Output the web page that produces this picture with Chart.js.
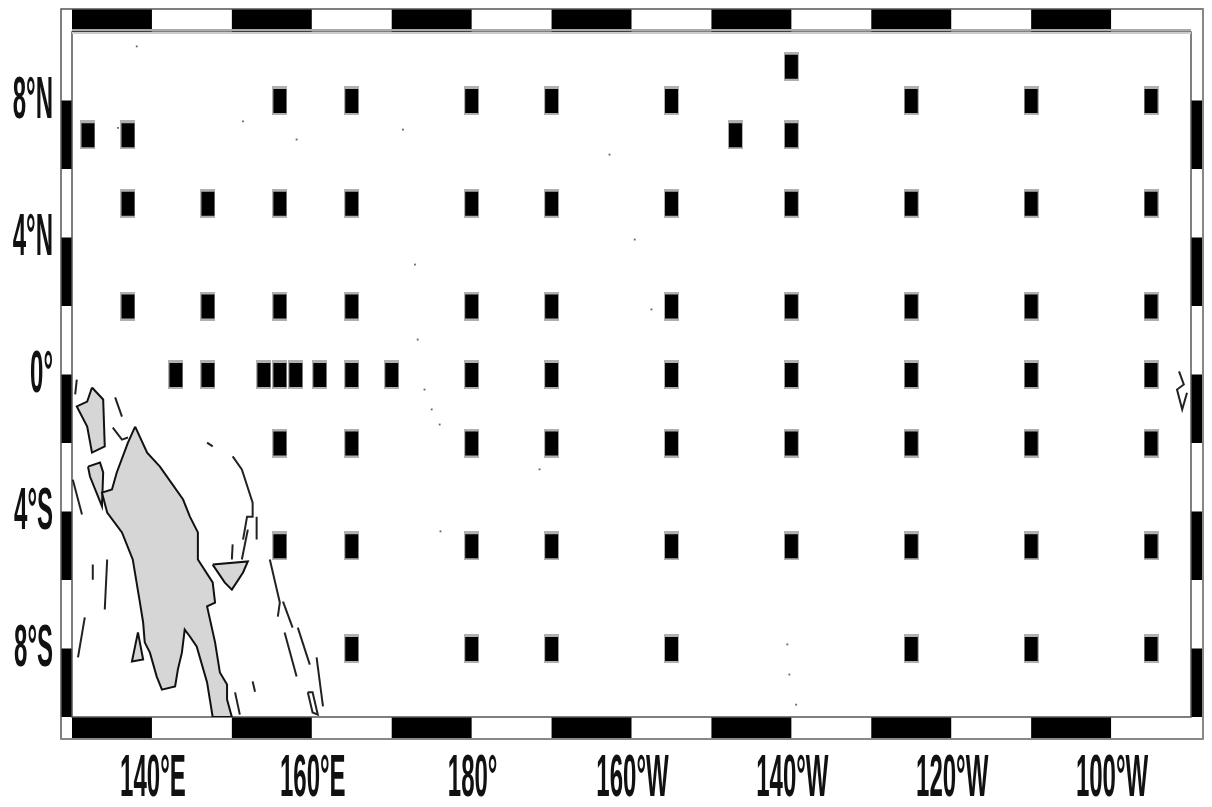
<!DOCTYPE html>
<html>
<head>
<meta charset="utf-8">
<style>
  html, body { margin: 0; padding: 0; background: #fff; }
  canvas { display: block; filter: blur(0.6px); }
</style>
<script src="https://cdn.jsdelivr.net/npm/chart.js@4"></script>
</head>
<body>
<canvas id="chartMap" width="1212" height="807"></canvas>
<script>
// Mooring stations, longitudes (degrees east) per latitude row
const lons9N = [220];
const lons8N = [156, 165, 180, 190, 205, 235, 250, 265];
const lons7N = [132, 137, 213, 220];
const lons5N = [137, 147, 156, 165, 180, 190, 205, 220, 235, 250, 265];
const lons2N = [137, 147, 156, 165, 180, 190, 205, 220, 235, 250, 265];
const lons0 = [143, 147, 154, 156, 158, 161, 165, 170, 180, 190, 205, 220, 235, 250, 265];
const lons2S = [156, 165, 180, 190, 205, 220, 235, 250, 265];
const lons5S = [156, 165, 180, 190, 205, 220, 235, 250, 265];
const lons8S = [165, 180, 190, 205, 235, 250, 265];

// Axis ticks
const xTickValues = [140, 160, 180, 200, 220, 240, 260];
const xTickLabels = ['140°E', '160°E', '180°', '160°W', '140°W', '120°W', '100°W'];
const yTickValues = [8, 4, 0, -4, -8];
const yTickLabels = ['8°N', '4°N', '0°', '4°S', '8°S'];

// Frame band edges, black and white alternate
const lonBandEdges = [130, 140, 150, 160, 170, 180, 190, 200, 210, 220, 230, 240, 250, 260, 270];
const latBandEdges = [10, 8, 6, 4, 2, 0, -2, -4, -6, -8, -10];

// Land, [lon, lat]
const newGuinea = [[137.9,-1.52],[139.4,-2.28],[141,-2.69],[143.9,-3.65],[144.75,-4.15],[145.75,-4.61],[145.75,-5.4],[147.6,-6.07],[147.9,-6.66],[146.9,-6.77],[147.9,-7.82],[148.5,-8.7],[149.4,-9.05],[149.4,-9.49],[150,-10],[147.6,-10],[146.9,-8.99],[145.6,-7.94],[144.75,-7.65],[144.1,-7.45],[143.75,-8.12],[143.25,-8.61],[142.9,-9.11],[141.25,-9.2],[140.6,-8.82],[139.75,-8.12],[139.1,-7.82],[138.9,-7.24],[138.5,-6.66],[137.6,-5.4],[136.25,-4.61],[134.4,-4.03],[133.75,-3.45],[135,-3.36],[135.6,-2.86],[137,-1.99],[137.9,-1.52]];
const halmahera = [[132.5,-0.38],[133.9,-0.73],[134.1,-2.1],[132.5,-2.28],[131.9,-1.52],[130.6,-0.93],[131.9,-0.79],[132.5,-0.38]];
const seram = [[132,-2.69],[133.5,-2.57],[133.9,-2.86],[133.75,-3.85],[132.25,-2.98],[132,-2.69]];
const britainTip = [[147.6,-5.55],[152,-5.46],[151.4,-5.78],[150,-6.28],[149.1,-6.07],[147.6,-5.55]];
const smallIsland = [[138.25,-7.53],[137.5,-8.38],[138.9,-8.32],[138.25,-7.53]];
const coastLines = [
  [[130.6,-0.15],[130.4,-0.58]],
  [[135.4,-0.67],[136.25,-1.23]],
  [[135.1,-1.55],[136.25,-1.9],[137,-1.84]],
  [[150.1,-2.39],[151.25,-2.77],[152.6,-3.74],[152.6,-4.15],[151.9,-4.15],[151.4,-4.82]],
  [[153.1,-4.15],[153.1,-4.82]],
  [[150.1,-4.96],[150,-5.4]],
  [[151.25,-5.4],[152,-4.53]],
  [[146.9,-1.99],[147.6,-2.1]],
  [[130.1,-3.07],[131.25,-4.09]],
  [[154.75,-5.4],[156,-6.66],[155.75,-7.07]],
  [[156.4,-6.63],[157.6,-7.39]],
  [[158.25,-7.39],[159.75,-8.47]],
  [[156.6,-7.53],[158.1,-8.82]],
  [[160.6,-8.26],[161.4,-9.69]],
  [[159.5,-9.28],[160.1,-9.28],[160.75,-9.93],[160.1,-9.87],[159.5,-9.28]],
  [[152.6,-8.96],[152.9,-9.26]],
  [[150.4,-9.28],[151,-9.93]],
  [[134.4,-5.4],[134.1,-6.86]],
  [[132.6,-5.55],[132.6,-5.99]],
  [[131.6,-7.09],[130.75,-8.26]],
  [[268.5,0.09],[269.1,-0.29],[268.25,-0.44],[268.9,-1.02],[269.5,-0.53]]
];
const specks = [[138.1,9.58],[151.4,7.39],[158.1,6.86],[171.4,7.15],[197.25,6.42],[172.9,3.21],[200.4,3.94],[202.5,1.9],[135.75,7.2],[173.25,1.02],[174.1,-0.44],[175,-1.02],[176,-1.46],[176.1,-4.58],[188.5,-2.77],[219.5,-7.88],[219.75,-8.76],[220.6,-9.64]];

function row(lons, lat) {
  return lons.map(lon => [lon, lat]);
}
const stations = [].concat(
  row(lons9N, 9), row(lons8N, 8), row(lons7N, 7), row(lons5N, 5), row(lons2N, 2),
  row(lons0, 0), row(lons2S, -2), row(lons5S, -5), row(lons8S, -8)
);

// Station marker: black block with soft grey ends
function makeMarker() {
  const c = document.createElement('canvas');
  c.width = 15;
  c.height = 29;
  const g = c.getContext('2d');
  g.fillStyle = '#b0b0b0';
  g.fillRect(0, 0, 15, 29);
  g.fillStyle = '#000';
  g.fillRect(1, 3, 13, 24);
  return c;
}
const marker = makeMarker();

function landSet(points) {
  return { data: points, showLine: true, fill: 'shape', backgroundColor: '#d6d6d6', borderColor: '#111', borderWidth: 2, pointRadius: 0, tension: 0 };
}
function coastSet(points) {
  return { data: points, showLine: true, fill: false, borderColor: '#222', borderWidth: 2, pointRadius: 0, tension: 0 };
}

// Checkered frame and squeezed tick labels, placed through the scales
const framePlugin = {
  id: 'frame',
  beforeDatasetsDraw(chart) {
    const ctx = chart.ctx;
    const xs = chart.scales.x;
    const ys = chart.scales.y;
    const left = xs.left, right = xs.right, top = ys.top, bottom = ys.bottom;
    const outerL = left - 11, outerR = right + 12, outerT = top - 23, outerB = bottom + 22;
    ctx.save();
    ctx.fillStyle = '#000';
    for (let i = 0; i < lonBandEdges.length - 1; i += 2) {
      const a = xs.getPixelForValue(lonBandEdges[i]);
      const b = xs.getPixelForValue(lonBandEdges[i + 1]);
      ctx.fillRect(a, outerT, b - a, top - outerT);
      ctx.fillRect(a, bottom, b - a, outerB - bottom);
    }
    for (let i = 1; i < latBandEdges.length - 1; i += 2) {
      const a = ys.getPixelForValue(latBandEdges[i]);
      const b = ys.getPixelForValue(latBandEdges[i + 1]);
      ctx.fillRect(outerL, a, left - outerL, b - a);
      ctx.fillRect(right, a, outerR - right, b - a);
    }
    ctx.strokeStyle = '#555';
    ctx.lineWidth = 1.5;
    ctx.strokeRect(outerL, outerT, outerR - outerL, outerB - outerT);
    ctx.strokeRect(left, top, right - left, bottom - top);
    ctx.fillStyle = '#aaa';
    ctx.fillRect(left, top - 3, right - left, 2);
    ctx.fillStyle = '#ccc';
    ctx.fillRect(left, top, right - left, 2);
    ctx.fillStyle = '#888';
    ctx.fillRect(outerL, outerB - 1, outerR - outerL, 2);
    ctx.fillRect(outerR - 1, outerT, 2, outerB - outerT);
    ctx.restore();
  },
  afterDraw(chart) {
    const ctx = chart.ctx;
    const xs = chart.scales.x;
    const ys = chart.scales.y;
    ctx.save();
    ctx.fillStyle = '#111';
    ctx.font = 'bold 60px "Liberation Sans Narrow", "Liberation Sans"';
    ctx.textBaseline = 'middle';
    xTickValues.forEach((v, i) => {
      ctx.save();
      ctx.translate(xs.getPixelForValue(v) + 1, 779);
      ctx.scale(0.4, 1);
      ctx.textAlign = 'center';
      ctx.fillText(xTickLabels[i], 0, 0);
      ctx.restore();
    });
    yTickValues.forEach((v, i) => {
      ctx.save();
      ctx.translate(53, ys.getPixelForValue(v) + 1);
      ctx.scale(0.4, 1);
      ctx.textAlign = 'right';
      ctx.fillText(yTickLabels[i], 0, 0);
      ctx.restore();
    });
    ctx.restore();
  }
};

new Chart(document.getElementById('chartMap').getContext('2d'), {
  type: 'scatter',
  data: {
    datasets: [
      { data: stations, pointStyle: marker, pointRadius: 7, showLine: false },
      { data: specks, pointStyle: 'rect', pointRadius: 1.3, backgroundColor: '#666', borderWidth: 0, showLine: false },
      landSet(newGuinea),
      landSet(halmahera),
      landSet(seram),
      landSet(britainTip),
      landSet(smallIsland)
    ].concat(coastLines.map(coastSet))
  },
  options: {
    responsive: false,
    animation: false,
    layout: { padding: { left: 72, right: 21, top: 32, bottom: 90 } },
    plugins: { legend: { display: false }, tooltip: { enabled: false } },
    scales: {
      x: {
        type: 'linear', min: 130, max: 270,
        grid: { display: false, drawTicks: false }, border: { display: false }, ticks: { display: false },
        afterBuildTicks: axis => { axis.ticks = xTickValues.map(v => ({ value: v })); }
      },
      y: {
        type: 'linear', min: -10, max: 10,
        grid: { display: false, drawTicks: false }, border: { display: false }, ticks: { display: false },
        afterBuildTicks: axis => { axis.ticks = yTickValues.map(v => ({ value: v })); }
      }
    }
  },
  plugins: [framePlugin]
});
</script>
</body>
</html>
